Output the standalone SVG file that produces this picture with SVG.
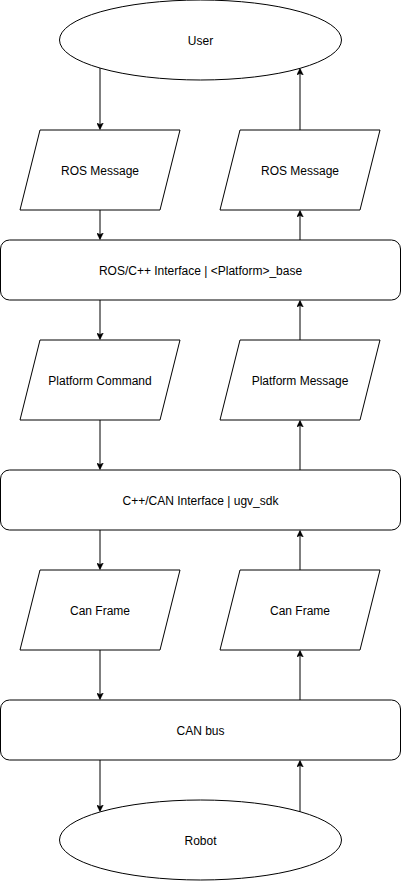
<svg xmlns="http://www.w3.org/2000/svg" width="401" height="881" viewBox="0 0 401 881">
<defs>
<style>
.s{fill:#fff;stroke:#000;stroke-width:1}
.t{font-family:"Liberation Sans",Arial,sans-serif;font-size:12px;fill:#000;text-anchor:middle;dominant-baseline:central}
.c{fill:none;stroke:#000;stroke-width:1;marker-end:url(#a)}
</style>
<marker id="a" viewBox="0 0 10 10" refX="9" refY="5" markerWidth="7" markerHeight="7" markerUnits="userSpaceOnUse" orient="auto">
<path d="M0,0 L10,5 L0,10 L2.5,5 Z" fill="#000" stroke="#000" stroke-width="0.5"/>
</marker>
</defs>
<rect width="401" height="881" fill="#fff"/>
<g id="user"><ellipse class="s" cx="200.5" cy="40" rx="141" ry="40"/><text class="t" x="200.5" y="41">User</text></g>
<g id="rosmsg1"><path class="s" d="M40,130 H180 L160,210 H20 Z"/><text class="t" x="100" y="171">ROS Message</text></g>
<g id="rosmsg2"><path class="s" d="M240,130 H380 L360,210 H220 Z"/><text class="t" x="300" y="171">ROS Message</text></g>
<g id="rosif"><rect class="s" x="0.5" y="240" width="400" height="60" rx="9"/><text class="t" x="200.5" y="271">ROS/C++ Interface | &lt;Platform&gt;_base</text></g>
<g id="platcmd"><path class="s" d="M40,340 H180 L160,420 H20 Z"/><text class="t" x="100" y="381">Platform Command</text></g>
<g id="platmsg"><path class="s" d="M240,340 H380 L360,420 H220 Z"/><text class="t" x="300" y="381">Platform Message</text></g>
<g id="canif"><rect class="s" x="0.5" y="470" width="400" height="60" rx="9"/><text class="t" x="200.5" y="501">C++/CAN Interface | ugv_sdk</text></g>
<g id="canframe1"><path class="s" d="M40,570 H180 L160,650 H20 Z"/><text class="t" x="100" y="611">Can Frame</text></g>
<g id="canframe2"><path class="s" d="M240,570 H380 L360,650 H220 Z"/><text class="t" x="300" y="611">Can Frame</text></g>
<g id="canbus"><rect class="s" x="0.5" y="700" width="400" height="60" rx="9"/><text class="t" x="200.5" y="731">CAN bus</text></g>
<g id="robot"><ellipse class="s" cx="200.5" cy="840" rx="141" ry="40"/><text class="t" x="200.5" y="841">Robot</text></g>
<g id="connectors">
<path class="c" d="M100,68 V129"/>
<path class="c" d="M100,210 V239"/>
<path class="c" d="M100,300 V339"/>
<path class="c" d="M100,420 V469"/>
<path class="c" d="M100,530 V569"/>
<path class="c" d="M100,650 V699"/>
<path class="c" d="M100,760 V811"/>
<path class="c" d="M300,812 V761"/>
<path class="c" d="M300,700 V651"/>
<path class="c" d="M300,570 V531"/>
<path class="c" d="M300,470 V421"/>
<path class="c" d="M300,340 V301"/>
<path class="c" d="M300,240 V211"/>
<path class="c" d="M300,130 V69"/>
</g>
</svg>
